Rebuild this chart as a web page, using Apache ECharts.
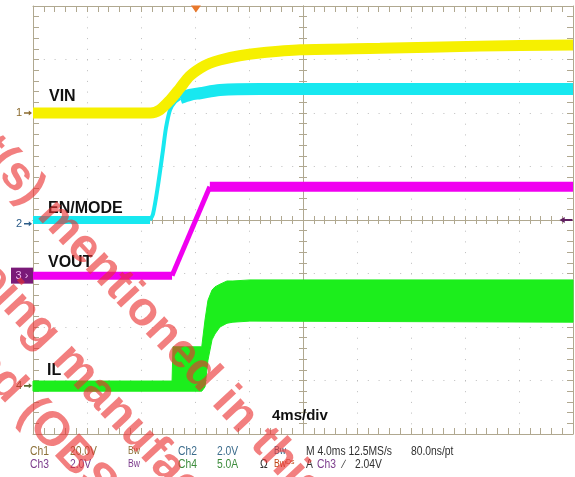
<!DOCTYPE html>
<html>
<head>
<meta charset="utf-8">
<script src="https://cdn.jsdelivr.net/npm/echarts@6/dist/echarts.min.js"></script>
<style>
  html, body { margin: 0; padding: 0; background: #fff; }
  #chart { width: 575px; height: 477px; }
</style>
</head>
<body>
<div id="chart"></div>
<script>
// time in ms (4 ms/div, 10 div), level in divisions (0 = bottom, 8 = top)
var vinX = [0, 8.7, 9.4, 10.15, 10.9, 11.6, 12.4, 13.1, 13.85, 15.3, 16.8, 19.8, 25.7, 33.1, 40];
var vinY = [6.0, 6.0, 6.06, 6.24, 6.47, 6.69, 6.84, 6.93, 6.99, 7.07, 7.12, 7.18, 7.21, 7.25, 7.27];

var enFlatX = [0, 8.67];
var enFlatY = [4.0, 4.0];
var enRiseX = [8.67, 8.89, 9.26, 9.63, 9.85, 10.15, 10.52, 10.89];
var enRiseY = [4.0, 4.11, 4.65, 5.31, 5.72, 6.06, 6.21, 6.28];
var enSettleX = [10.89, 11.63, 12.37, 13.85, 16.81, 19.78, 27.19, 40];
var enSettleY = [6.28, 6.34, 6.37, 6.43, 6.45, 6.45, 6.45, 6.45];

var voutFlatX = [0, 10.3];
var voutFlatY = [2.96, 2.96];
var voutRiseX = [10.3, 13.1];
var voutRiseY = [2.96, 4.62];
var voutHighX = [13.1, 40];
var voutHighY = [4.62, 4.62];

var ilX = [0, 10.3, 10.37, 12.5, 12.74, 12.96, 13.26, 13.48, 13.85, 14.37, 14.81, 16.07, 40];
var ilUpper = [0.99, 0.99, 1.63, 1.63, 2.13, 2.50, 2.69, 2.75, 2.80, 2.86, 2.86, 2.88, 2.88];
var ilLower = [0.80, 0.80, 0.80, 0.80, 0.88, 1.38, 1.76, 1.87, 2.00, 2.07, 2.09, 2.11, 2.09];

var chLevels = [6.0, 3.93, 2.96, 0.9];
var trigTime = 12.07;

var tickColor = "#b0a890";
var dotColor = "#bdbdbd";
var arrowRight = "path://M0,2 L6,2 L6,0 L10,3 L6,6 L6,4 L0,4 Z";
var arrowLeft = "path://M10,2 L4,2 L4,0 L0,3 L4,6 L4,4 L10,4 Z";

function pairs(xs, ys) {
  return xs.map(function (x, i) { return [x, ys[i]]; });
}

function tickAxis(pos, max, step, offset, inside, len) {
  return {
    type: "value", position: pos, min: 0, max: max, interval: step, offset: offset,
    axisLine: { show: true, onZero: false, lineStyle: { color: tickColor, width: 1 } },
    axisTick: { show: true, inside: inside, length: len, lineStyle: { color: tickColor } },
    axisLabel: { show: false },
    splitLine: { show: false }
  };
}

function trace(name, xs, ys, color, width, extra) {
  var s = {
    name: name, type: "line", data: pairs(xs, ys), showSymbol: false, symbol: "none",
    smooth: 0.3, xAxisIndex: 0, yAxisIndex: 0, z: 3,
    lineStyle: { color: color, width: width }
  };
  return Object.assign(s, extra || {});
}

function chMarker(level, label, color) {
  return {
    symbol: arrowRight, symbolSize: [8, 5], symbolOffset: [-5, 0], silent: true,
    itemStyle: { color: color },
    label: { show: true, position: "left", distance: 2, formatter: label, color: color, fontSize: 11, fontFamily: "Liberation Sans" },
    data: [{ coord: [0, level] }]
  };
}

var option = {
  animation: false,
  backgroundColor: "#ffffff",
  grid: { left: 33, top: 6, width: 540, height: 428 },
  xAxis: [
    {
      type: "value", min: 0, max: 40, interval: 4, position: "bottom",
      axisLine: { show: false, onZero: false }, axisTick: { show: false }, axisLabel: { show: false },
      splitLine: { show: true, lineStyle: { color: dotColor, width: 1, type: [1, 9.7] } }
    },
    tickAxis("bottom", 40, 0.8, 0, true, 6),
    tickAxis("top", 40, 0.8, 0, true, 6),
    tickAxis("bottom", 40, 0.8, -214, true, 4),
    tickAxis("bottom", 40, 0.8, -214, false, 4)
  ],
  yAxis: [
    {
      type: "value", min: 0, max: 8, interval: 1, position: "left",
      axisLine: { show: false, onZero: false }, axisTick: { show: false }, axisLabel: { show: false },
      splitLine: { show: true, lineStyle: { color: dotColor, width: 1, type: [1, 9.8] } }
    },
    tickAxis("left", 8, 0.2, 0, true, 6),
    tickAxis("right", 8, 0.2, 0, true, 6),
    tickAxis("left", 8, 0.2, -270, true, 4),
    tickAxis("left", 8, 0.2, -270, false, 4)
  ],
  series: [
    // IL envelope: polygon between upper and lower edge of the switching band
    {
      name: "IL", type: "custom", xAxisIndex: 0, yAxisIndex: 0, z: 3, silent: true,
      data: [[0, 0]],
      renderItem: function (params, api) {
        var pts = [];
        for (var i = 0; i < ilX.length; i++) pts.push(api.coord([ilX[i], ilUpper[i]]));
        for (var j = ilX.length - 1; j >= 0; j--) pts.push(api.coord([ilX[j], ilLower[j]]));
        return { type: "polygon", shape: { points: pts }, style: { fill: "#1cee1c", stroke: "#1cee1c", lineWidth: 1 } };
      }
    },
    trace("VOUT", voutFlatX, voutFlatY, "#f000f0", 8, {
      markPoint: {
        symbol: "rect", symbolSize: [22, 16], symbolOffset: [-11, 0], silent: true,
        itemStyle: { color: "#7a1a78" },
        label: { show: true, position: "inside", formatter: "3 \u203a", color: "#f0b8f0", fontSize: 11, fontFamily: "Liberation Sans" },
        data: [{ coord: [0, chLevels[2]] }]
      }
    }),
    trace("VOUT rise", voutRiseX, voutRiseY, "#f000f0", 5, {
      smooth: false,
      markPoint: chMarker(chLevels[3], "4", "#5a6a30")
    }),
    trace("VOUT high", voutHighX, voutHighY, "#f000f0", 10, {
      markPoint: {
        symbol: "triangle", symbolRotate: 180, symbolSize: [10, 7], symbolOffset: [0, 3], silent: true,
        itemStyle: { color: "#e8782c" },
        data: [{ coord: [trigTime, 8] }]
      }
    }),
    trace("EN/MODE", enFlatX, enFlatY, "#18e8f0", 8, {
      markPoint: chMarker(chLevels[1], "2", "#2c5c88")
    }),
    trace("EN rise", enRiseX, enRiseY, "#18e8f0", 4),
    trace("EN settle", enSettleX, enSettleY, "#18e8f0", 12, {
      markPoint: {
        symbol: arrowLeft, symbolSize: [13, 6], symbolOffset: [-7, 0], silent: true,
        itemStyle: { color: "#602060" },
        data: [{ coord: [40, 4] }]
      }
    }),
    trace("VIN", vinX, vinY, "#f6f000", 11, {
      markPoint: chMarker(chLevels[0], "1", "#8c6c30")
    })
  ]
};

var lblFont = 'bold 16px "Liberation Sans", Arial, sans-serif';
var stFont = '12px "Liberation Sans", Arial, sans-serif';
var smFont = '10px "Liberation Sans", Arial, sans-serif';
var wmFont = 'bold 48px "Liberation Sans", Arial, sans-serif';

function txt(s, x, y, font, color, sx) {
  return { type: "text", x: x, y: y, z: 10, silent: true, scaleX: sx || 1,
    style: { text: s, font: font, fill: color, textVerticalAlign: "top" } };
}
function st(s, x, y, color, font) {
  return txt(s, x, y, font || stFont, color, 0.86);
}

var c1 = "#8c7038", c2 = "#3c6c8c", c3 = "#7c3c8c", c4 = "#3c8c3c", cb = "#303030";
var rot = -47 * Math.PI / 180;
function wm(s, x, y) {
  return { type: "text", x: x, y: y, rotation: rot, z: 100, silent: true,
    style: { text: s, font: wmFont, fill: "rgba(234,48,48,0.62)", textVerticalAlign: "middle" } };
}

option.graphic = [
  txt("VIN", 49, 89, lblFont, "#111"),
  txt("EN/MODE", 48, 201, lblFont, "#111"),
  txt("VOUT", 48, 255, lblFont, "#111"),
  txt("IL", 47, 363, lblFont, "#111"),
  txt("4ms/div", 272, 408, 'bold 15px "Liberation Sans", Arial, sans-serif', "#111"),

  st("Ch1", 30, 446, c1),
  st("20.0V", 70, 446, c1),
  st("Bw", 128, 446, c1, smFont),
  st("Ch2", 178, 446, c2),
  st("2.0V", 217, 446, c2),
  st("Bw", 274, 446, c2, smFont),
  st("M 4.0ms 12.5MS/s", 306, 446, cb),
  st("80.0ns/pt", 411, 446, cb),

  st("Ch3", 30, 459, c3),
  st("2.0V", 70, 459, c3),
  st("Bw", 128, 459, c3, smFont),
  st("Ch4", 178, 459, c4),
  st("5.0A", 217, 459, c4),
  st("\u03a9", 260, 459, cb),
  st("Bw", 274, 459, "#c04818", smFont),
  st("Ds", 286, 458, "#c04818", '8px "Liberation Sans", Arial, sans-serif'),
  st("A", 306, 459, cb),
  st("Ch3", 317, 459, c3),
  st("\u2215", 343, 459, cb),
  st("2.04V", 355, 459, cb),

  wm("Product(s) mentioned in this document", -127, 22),
  wm("are being manufactured by", -94, 186),
  wm("is obsoleted (OBS)", -174, 191)
];

var chart = echarts.init(document.getElementById("chart"), null, { renderer: "canvas" });
chart.setOption(option);
</script>
</body>
</html>
